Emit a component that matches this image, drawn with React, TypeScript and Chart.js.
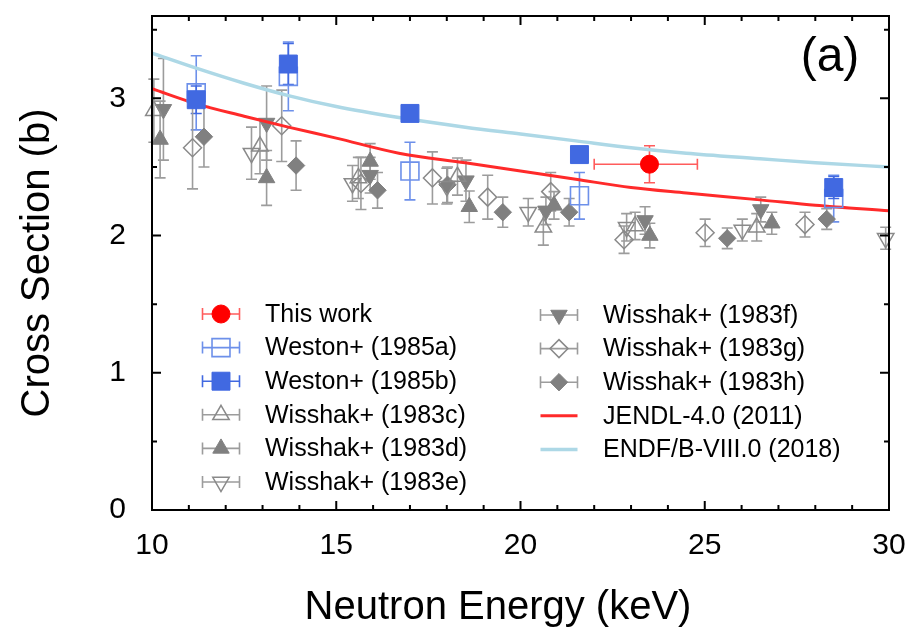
import React, { useEffect, useRef } from "react";
import { Chart, registerables } from "chart.js";

Chart.register(...registerables);

// ---------- data ----------
const X_MIN = 10, X_MAX = 30, Y_MIN = 0, Y_MAX = 3.6;

const thisWorkE = [23.5];
const thisWorkXS = [2.52];
const thisWorkErr = [0.135];
const thisWorkELo = [1.5];
const thisWorkEHi = [1.3];

const westonAE = [11.2, 13.7, 17.0, 21.6, 28.5];
const westonAXS = [3.04, 3.16, 2.47, 2.29, 2.27];
const westonAErr = [0.27, 0.25, 0.21, 0.17, 0.17];

const westonBE = [11.2, 13.7, 17.0, 21.6, 28.5];
const westonBXS = [2.99, 3.25, 2.89, 2.59, 2.35];
const westonBErr = [0.1, 0.15, 0.05, 0.05, 0.08];

const wisCE = [10.05, 12.93, 15.6, 18.29, 20.62, 23.11, 26.41];
const wisCXS = [2.91, 2.65, 2.42, 2.43, 2.06, 2.07, 2.06];
const wisCErr = [0.23, 0.2, 0.15, 0.135, 0.13, 0.1, 0.1];

const wisDE = [10.22, 13.11, 15.92, 18.61, 20.91, 23.51, 26.82];
const wisDXS = [2.7, 2.42, 2.54, 2.21, 2.22, 2.0, 2.09];
const wisDErr = [0.28, 0.2, 0.13, 0.115, 0.1, 0.09, 0.08];

const wisEE = [12.7, 15.44, 18.0, 20.21, 22.88, 26.02, 29.91];
const wisEXS = [2.6, 2.38, 2.36, 2.17, 2.06, 2.04, 1.98];
const wisEErr = [0.19, 0.13, 0.13, 0.1, 0.1, 0.08, 0.08];

const wisFE = [10.31, 13.11, 15.92, 18.52, 20.69, 23.38, 26.52];
const wisFXS = [2.92, 2.82, 2.44, 2.4, 2.18, 2.11, 2.19];
const wisFErr = [0.37, 0.27, 0.13, 0.15, 0.1, 0.1, 0.09];

const wisGE = [11.1, 13.52, 15.67, 17.61, 19.11, 20.82, 22.81, 25.01, 27.72];
const wisGXS = [2.64, 2.8, 2.38, 2.42, 2.28, 2.32, 1.97, 2.02, 2.08];
const wisGErr = [0.3, 0.26, 0.19, 0.19, 0.16, 0.14, 0.1, 0.1, 0.09];

const wisHE = [11.41, 13.91, 16.12, 18.02, 19.52, 21.32, 25.61, 28.31];
const wisHXS = [2.72, 2.51, 2.33, 2.37, 2.17, 2.17, 1.98, 2.12];
const wisHErr = [0.22, 0.18, 0.13, 0.13, 0.11, 0.1, 0.075, 0.075];

const jendlE = [10, 11.2, 12.5, 13.7, 15, 16.7, 18.5, 20, 21.5, 23, 24.5, 26.5, 28, 30];
const jendlXS = [3.07, 2.96, 2.87, 2.79, 2.71, 2.6, 2.53, 2.47, 2.41, 2.35, 2.31, 2.26, 2.22, 2.18];

const endfE = [10, 11.2, 12.5, 13.7, 15, 16.7, 18.5, 20, 21.5, 23, 24.5, 26.5, 28, 30];
const endfXS = [3.33, 3.22, 3.11, 3.02, 2.94, 2.86, 2.79, 2.74, 2.69, 2.64, 2.6, 2.56, 2.53, 2.5];

const X_TICKS = [10, 15, 20, 25, 30];
const Y_TICKS = [0, 1, 2, 3];

const X_TITLE = "Neutron Energy (keV)";
const Y_TITLE = "Cross Section (b)";
const PANEL_LABEL = "(a)";

const LEGEND_LEFT = ["This work", "Weston+ (1985a)", "Weston+ (1985b)", "Wisshak+ (1983c)", "Wisshak+ (1983d)", "Wisshak+ (1983e)"];
const LEGEND_RIGHT = ["Wisshak+ (1983f)", "Wisshak+ (1983g)", "Wisshak+ (1983h)", "JENDL-4.0 (2011)", "ENDF/B-VIII.0 (2018)"];

// ---------- styles ----------
const FONT = "'Liberation Sans', Arial, Helvetica, sans-serif";
const GREY = "#808080";
const GREY_OPEN = "#8a8a8a";
const GREY_ERR = "#9c9c9c";
const TRANSP = "rgba(0,0,0,0)";

const pts = (xs: number[], ys: number[]) => xs.map((x, i) => ({ x, y: ys[i] }));

function markerSet(label: string, xs: number[], ys: number[], errs: number[], style: string, rot: number, r: number, fill: string, stroke: string, bw: number, errColor: string, order: number, extra: any = {}) {
  return {
    label,
    data: pts(xs, ys),
    errY: errs,
    errColor,
    showLine: false,
    pointStyle: style,
    pointRotation: rot,
    pointRadius: r,
    pointHoverRadius: r,
    pointBackgroundColor: fill,
    pointBorderColor: stroke,
    pointBorderWidth: bw,
    backgroundColor: fill,
    borderColor: stroke,
    order,
    clip: false,
    ...extra,
  };
}

function lineSet(label: string, xs: number[], ys: number[], color: string, width: number, order: number) {
  return {
    label,
    data: pts(xs, ys),
    showLine: true,
    borderColor: color,
    backgroundColor: color,
    borderWidth: width,
    pointRadius: 0,
    pointHoverRadius: 0,
    cubicInterpolationMode: "monotone",
    order,
  };
}

function drawMarker(ctx: CanvasRenderingContext2D, style: string, rot: number, r: number, x: number, y: number, fill: string, stroke: string, bw: number) {
  ctx.beginPath();
  if (style === "circle") {
    ctx.arc(x, y, r, 0, Math.PI * 2);
  } else if (style === "rect") {
    const s = Math.SQRT1_2 * r;
    ctx.rect(x - s, y - s, 2 * s, 2 * s);
  } else if (style === "rectRot") {
    ctx.moveTo(x - r, y);
    ctx.lineTo(x, y - r);
    ctx.lineTo(x + r, y);
    ctx.lineTo(x, y + r);
    ctx.closePath();
  } else if (style === "triangle") {
    let rad = (rot * Math.PI) / 180;
    ctx.moveTo(x + Math.sin(rad) * r, y - Math.cos(rad) * r);
    rad += (2 * Math.PI) / 3;
    ctx.lineTo(x + Math.sin(rad) * r, y - Math.cos(rad) * r);
    rad += (2 * Math.PI) / 3;
    ctx.lineTo(x + Math.sin(rad) * r, y - Math.cos(rad) * r);
    ctx.closePath();
  }
  if (fill !== TRANSP) {
    ctx.fillStyle = fill;
    ctx.fill();
  }
  ctx.lineWidth = bw;
  ctx.strokeStyle = stroke;
  ctx.stroke();
}

const CAP = 5.5;

const errorBarPlugin = {
  id: "errorBars",
  beforeDatasetsDraw(chart: any) {
    const { ctx } = chart;
    const xs = chart.scales.x, ys = chart.scales.y;
    ctx.save();
    ctx.lineWidth = 1.6;
    chart.data.datasets.forEach((ds: any) => {
      if (!ds.errY) return;
      ctx.strokeStyle = ds.errColor;
      ds.data.forEach((p: any, i: number) => {
        const px = xs.getPixelForValue(p.x);
        const py = ys.getPixelForValue(p.y);
        const e = ds.errY[i];
        const y1 = ys.getPixelForValue(p.y + e);
        const y2 = ys.getPixelForValue(p.y - e);
        ctx.beginPath();
        ctx.moveTo(px, y1); ctx.lineTo(px, y2);
        ctx.moveTo(px - CAP, y1); ctx.lineTo(px + CAP, y1);
        ctx.moveTo(px - CAP, y2); ctx.lineTo(px + CAP, y2);
        if (ds.errXLo) {
          const x1 = xs.getPixelForValue(p.x - ds.errXLo[i]);
          const x2 = xs.getPixelForValue(p.x + ds.errXHi[i]);
          ctx.moveTo(x1, py); ctx.lineTo(x2, py);
          ctx.moveTo(x1, py - CAP); ctx.lineTo(x1, py + CAP);
          ctx.moveTo(x2, py - CAP); ctx.lineTo(x2, py + CAP);
        }
        ctx.stroke();
      });
    });
    ctx.restore();
  },
};

const framePlugin = {
  id: "frameTicks",
  afterDatasetsDraw(chart: any) {
    const { ctx, chartArea } = chart;
    const { left, right, top, bottom } = chartArea;
    const xs = chart.scales.x, ys = chart.scales.y;
    ctx.save();
    ctx.strokeStyle = "#000";
    ctx.lineWidth = 2;
    ctx.strokeRect(left, top, right - left, bottom - top);
    ctx.beginPath();
    for (let v = X_MIN; v <= X_MAX; v += 1) {
      const px = xs.getPixelForValue(v);
      const L = v % 5 === 0 ? 9 : 5;
      ctx.moveTo(px, bottom); ctx.lineTo(px, bottom - L);
      ctx.moveTo(px, top); ctx.lineTo(px, top + L);
    }
    for (let k = 0; k <= 7; k++) {
      const v = k * 0.5;
      const py = ys.getPixelForValue(v);
      const L = k % 2 === 0 ? 9 : 5;
      ctx.moveTo(left, py); ctx.lineTo(left + L, py);
      ctx.moveTo(right, py); ctx.lineTo(right - L, py);
    }
    ctx.stroke();
    ctx.restore();
  },
};

const legendPlugin = {
  id: "customLegend",
  afterDraw(chart: any) {
    const { ctx } = chart;
    const find = (lab: string) => chart.data.datasets.find((d: any) => d.label === lab);
    const drawEntry = (lab: string, cx: number, cy: number, tx: number) => {
      const ds = find(lab);
      if (!ds) return;
      ctx.save();
      if (ds.showLine) {
        ctx.strokeStyle = ds.borderColor;
        ctx.lineWidth = ds.borderWidth;
        ctx.beginPath();
        ctx.moveTo(cx - 18.5, cy); ctx.lineTo(cx + 18.5, cy);
        ctx.stroke();
      } else {
        ctx.strokeStyle = ds.errColor;
        ctx.lineWidth = 1.6;
        ctx.beginPath();
        ctx.moveTo(cx - 18.5, cy); ctx.lineTo(cx + 18.5, cy);
        ctx.moveTo(cx - 18.5, cy - 6); ctx.lineTo(cx - 18.5, cy + 6);
        ctx.moveTo(cx + 18.5, cy - 6); ctx.lineTo(cx + 18.5, cy + 6);
        ctx.stroke();
        drawMarker(ctx, ds.pointStyle, ds.pointRotation, ds.pointRadius, cx, cy, ds.pointBackgroundColor, ds.pointBorderColor, ds.pointBorderWidth);
      }
      ctx.fillStyle = "#000";
      ctx.font = `25px ${FONT}`;
      ctx.textAlign = "left";
      ctx.textBaseline = "middle";
      ctx.fillText(lab, tx, cy + 1);
      ctx.restore();
    };
    LEGEND_LEFT.forEach((lab, i) => drawEntry(lab, 221, 314 + 33.6 * i, 265));
    LEGEND_RIGHT.forEach((lab, i) => drawEntry(lab, 559, 315 + 33.6 * i, 603));
    ctx.save();
    ctx.fillStyle = "#000";
    ctx.textAlign = "center";
    ctx.textBaseline = "middle";
    ctx.font = `48px ${FONT}`;
    ctx.fillText(PANEL_LABEL, 830, 58);
    ctx.font = `40px ${FONT}`;
    ctx.fillText(X_TITLE, 498, 608);
    ctx.translate(38, 263);
    ctx.rotate(-Math.PI / 2);
    ctx.fillText(Y_TITLE, 0, 0);
    ctx.restore();
  },
};

export default function App() {
  const ref = useRef<HTMLCanvasElement | null>(null);
  useEffect(() => {
    document.body.style.margin = "0";
    const canvas = ref.current;
    if (!canvas) return;
    Chart.defaults.font.family = FONT;
    Chart.defaults.color = "#000";
    const datasets: any[] = [
      markerSet("This work", thisWorkE, thisWorkXS, thisWorkErr, "circle", 0, 9, "#ff0000", "#ff0000", 1, "#ff5c5c", 1, { errXLo: thisWorkELo, errXHi: thisWorkEHi }),
      markerSet("Weston+ (1985a)", westonAE, westonAXS, westonAErr, "rect", 0, 12.7, TRANSP, "#6d90ea", 1.6, "#6d90ea", 3),
      markerSet("Weston+ (1985b)", westonBE, westonBXS, westonBErr, "rect", 0, 12.7, "#4169e1", "#4169e1", 1, "#4169e1", 2),
      markerSet("Wisshak+ (1983c)", wisCE, wisCXS, wisCErr, "triangle", 0, 9.5, TRANSP, GREY_OPEN, 1.5, GREY_ERR, 6),
      markerSet("Wisshak+ (1983d)", wisDE, wisDXS, wisDErr, "triangle", 0, 9.5, GREY, GREY, 1, GREY_ERR, 6),
      markerSet("Wisshak+ (1983e)", wisEE, wisEXS, wisEErr, "triangle", 180, 9.5, TRANSP, GREY_OPEN, 1.5, GREY_ERR, 6),
      markerSet("Wisshak+ (1983f)", wisFE, wisFXS, wisFErr, "triangle", 180, 9.5, GREY, GREY, 1, GREY_ERR, 6),
      markerSet("Wisshak+ (1983g)", wisGE, wisGXS, wisGErr, "rectRot", 0, 9, TRANSP, GREY_OPEN, 1.5, GREY_ERR, 6),
      markerSet("Wisshak+ (1983h)", wisHE, wisHXS, wisHErr, "rectRot", 0, 8.7, GREY, GREY, 1, GREY_ERR, 6),
      lineSet("JENDL-4.0 (2011)", jendlE, jendlXS, "#ff2a2a", 3, 4),
      lineSet("ENDF/B-VIII.0 (2018)", endfE, endfXS, "#add8e6", 3.5, 5),
    ];
    const chart = new Chart(canvas, {
      type: "scatter",
      data: { datasets },
      options: {
        animation: false,
        responsive: false,
        events: [],
        layout: { padding: { top: 16, right: 32, left: 0, bottom: 0 } },
        plugins: { legend: { display: false }, tooltip: { enabled: false } },
        scales: {
          x: {
            type: "linear",
            min: X_MIN,
            max: X_MAX,
            afterBuildTicks: (s: any) => { s.ticks = X_TICKS.map((v) => ({ value: v })); },
            afterFit: (s: any) => { s.height = 129; s.paddingLeft = 0; s.paddingRight = 0; },
            ticks: { font: { size: 30 }, color: "#000", padding: 18, maxRotation: 0, includeBounds: false },
            grid: { display: false, drawTicks: false },
            border: { display: false },
            title: { display: false },
          },
          y: {
            type: "linear",
            min: Y_MIN,
            max: Y_MAX,
            afterBuildTicks: (s: any) => { s.ticks = Y_TICKS.map((v) => ({ value: v })); },
            afterFit: (s: any) => { s.width = 152; s.paddingTop = 0; s.paddingBottom = 0; },
            ticks: { font: { size: 30 }, color: "#000", padding: 26, includeBounds: false },
            grid: { display: false, drawTicks: false },
            border: { display: false },
            title: { display: false },
          },
        },
      } as any,
      plugins: [errorBarPlugin, framePlugin, legendPlugin],
    });
    return () => chart.destroy();
  }, []);
  return (
    <div style={{ position: "absolute", left: 0, top: 0, width: 921, height: 639, background: "#fff" }}>
      <canvas ref={ref} width={921} height={639} />
    </div>
  );
}
